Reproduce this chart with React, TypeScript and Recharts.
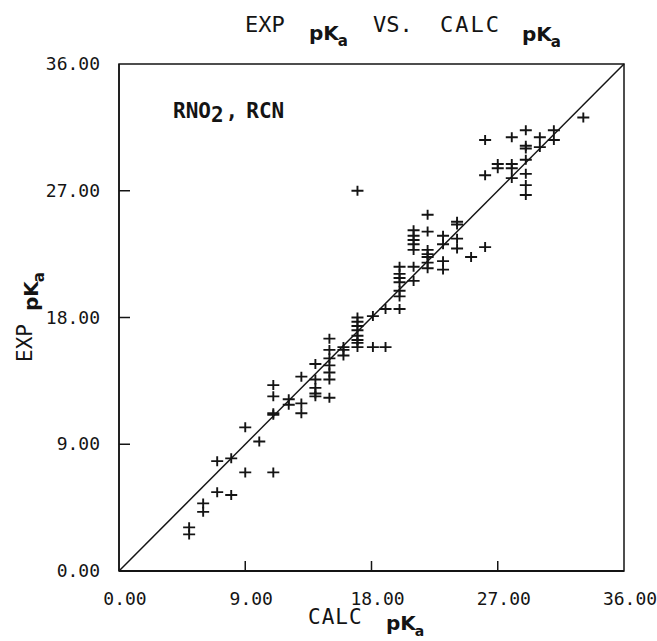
import { ScatterChart, Scatter, XAxis, YAxis, ReferenceLine, ReferenceArea } from "recharts";

const calcPka = [
  5.0, 5.0, 6.0, 6.0, 7.0, 7.0, 8.0, 8.0, 9.0, 9.0, 10.0,
  11.0, 11.0, 11.0, 11.0, 11.0, 12.1, 12.1, 13.0, 13.0, 13.0,
  14.0, 14.0, 14.0, 14.0, 14.0, 15.0, 15.0, 15.0, 15.0, 15.0, 15.0, 15.0,
  16.0, 16.0, 16.0, 17.0, 17.0, 17.0, 17.0, 17.0, 17.0, 17.0, 17.0, 17.0,
  18.1, 18.1, 19.0, 19.0, 20.0, 20.0, 20.0, 20.0, 20.0, 20.0, 20.0,
  21.0, 21.0, 21.0, 21.0, 21.0, 21.0, 21.0, 22.0, 22.0, 22.0, 22.0, 22.0, 22.0, 22.0,
  23.1, 23.1, 23.1, 23.1, 24.1, 24.1, 24.1, 24.1, 25.1, 26.1, 26.1, 26.1,
  27.0, 27.0, 28.0, 28.0, 28.0, 28.0, 29.0, 29.0, 29.0, 29.0, 29.0, 29.0, 29.0,
  30.0, 30.0, 31.0, 31.0, 33.1,
];
const expPka = [
  2.6, 3.1, 4.2, 4.8, 5.6, 7.8, 5.4, 8.0, 7.0, 10.2, 9.2,
  7.0, 11.1, 11.2, 12.4, 13.2, 11.8, 12.2, 11.2, 11.9, 13.8,
  12.4, 12.6, 13.0, 13.6, 14.7, 12.3, 13.6, 14.1, 14.6, 15.1, 15.7, 16.5,
  15.3, 15.7, 15.9, 15.9, 16.2, 16.4, 16.7, 17.1, 17.4, 17.7, 18.0, 27.0,
  15.9, 18.1, 15.9, 18.6, 18.6, 19.5, 19.9, 20.5, 20.8, 21.1, 21.6,
  20.6, 21.6, 22.8, 23.2, 23.5, 23.8, 24.2, 21.5, 21.9, 22.3, 22.5, 22.8, 24.1, 25.3,
  21.4, 22.0, 23.2, 23.8, 22.9, 23.6, 24.6, 24.8, 22.3, 23.0, 28.1, 30.6,
  28.6, 28.9, 27.9, 28.6, 28.9, 30.8, 26.7, 27.4, 28.2, 29.2, 30.0, 30.2, 31.3,
  30.1, 30.8, 30.6, 31.3, 32.2,
];
const axisTicks = [0, 9, 18, 27, 36];
const tickLabels = ["0.00", "9.00", "18.00", "27.00", "36.00"];

const points = calcPka.map((c, i) => ({ calc: c, exp: expPka[i] }));

const INK = "#141414";
const MONO = "'DejaVu Sans Mono', monospace";
const BOLD = "'DejaVu Sans', sans-serif";

const labelFor = (v: number) => tickLabels[axisTicks.indexOf(v)] ?? v.toFixed(2);

function XTick(props: any) {
  const { x, y, payload } = props;
  const v = payload.value;
  const inner = v > 0 && v < 36;
  return (
    <g>
      {inner && <line x1={x} y1={y} x2={x} y2={y - 10} stroke={INK} strokeWidth={1.5} />}
      <text x={x + 6} y={y + 34} textAnchor="middle" fontFamily={MONO} fontSize={18} fill={INK}>
        {labelFor(v)}
      </text>
    </g>
  );
}

function YTick(props: any) {
  const { x, y, payload } = props;
  const v = payload.value;
  const inner = v > 0 && v < 36;
  return (
    <g>
      {inner && <line x1={x} y1={y} x2={x + 11} y2={y} stroke={INK} strokeWidth={1.5} />}
      <text x={x - 19} y={y + 6} textAnchor="end" fontFamily={MONO} fontSize={18} fill={INK}>
        {labelFor(v)}
      </text>
    </g>
  );
}

function Plus(props: any) {
  const { cx, cy } = props;
  return (
    <path
      d={`M${cx - 6},${cy}H${cx + 6}M${cx},${cy - 5}V${cy + 5}`}
      stroke={INK}
      strokeWidth={1.9}
      fill="none"
    />
  );
}

function PKa({ x, y, big = 20, small = 15 }: { x: number; y: number; big?: number; small?: number }) {
  return (
    <text x={x} y={y} fontFamily={BOLD} fontWeight="bold" fontSize={big} fill={INK}>
      pK<tspan fontSize={small} dy={6} dx={-1}>a</tspan>
    </text>
  );
}

export default function App() {
  return (
    <div style={{ position: "absolute", left: 0, top: 0, width: 657, height: 641, background: "#fff" }}>
      <ScatterChart width={657} height={641} margin={{ top: 64, right: 33, bottom: 0, left: 0 }}>
        <XAxis
          type="number"
          dataKey="calc"
          domain={[0, 36]}
          ticks={axisTicks}
          height={70}
          tickSize={0}
          tickMargin={0}
          tickLine={false}
          axisLine={{ stroke: INK, strokeWidth: 1.8 }}
          tick={<XTick />}
          interval={0}
        />
        <YAxis
          type="number"
          dataKey="exp"
          domain={[0, 36]}
          ticks={axisTicks}
          width={119}
          tickSize={0}
          tickMargin={0}
          tickLine={false}
          axisLine={{ stroke: INK, strokeWidth: 1.5 }}
          tick={<YTick />}
          interval={0}
        />
        <ReferenceArea x1={0} x2={36} y1={0} y2={36} fill="none" fillOpacity={0} stroke={INK} strokeWidth={1.5} />
        <ReferenceLine segment={[{ x: 0, y: 0 }, { x: 36, y: 36 }]} stroke={INK} strokeWidth={1.5} />
        <Scatter data={points} shape={<Plus />} isAnimationActive={false} />
      </ScatterChart>
      <svg width={657} height={641} style={{ position: "absolute", left: 0, top: 0, pointerEvents: "none" }}>
        <text x={245} y={32} fontFamily={MONO} fontSize={22} fill={INK}>EXP</text>
        <PKa x={309} y={40} />
        <text x={373} y={32} fontFamily={MONO} fontSize={22} fill={INK}>VS.</text>
        <text x={440} y={32} fontFamily={MONO} fontSize={22} fill={INK} letterSpacing={2}>CALC</text>
        <PKa x={522} y={41} />

        <text x={173} y={118} fontFamily={MONO} fontWeight="bold" fontSize={21} fill={INK}>
          RNO<tspan dy={4}>2</tspan><tspan dy={-4} dx={2}>,</tspan><tspan dx={8}>RCN</tspan>
        </text>

        <text x={308} y={624} fontFamily={MONO} fontSize={21} fill={INK} letterSpacing={1}>CALC</text>
        <PKa x={386} y={630} big={20} small={14} />

        <text transform="translate(32,362) rotate(-90)" fontFamily={MONO} fontSize={21} fill={INK}>EXP</text>
        <g transform="translate(38,311) rotate(-90)">
          <PKa x={0} y={0} />
        </g>
      </svg>
    </div>
  );
}
